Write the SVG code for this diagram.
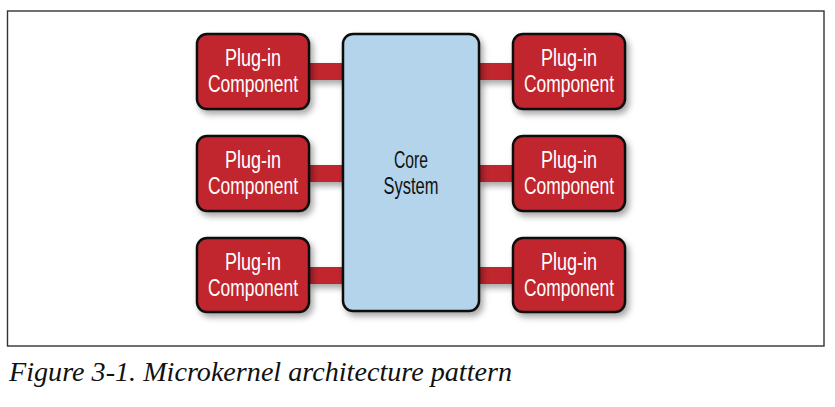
<svg xmlns="http://www.w3.org/2000/svg" width="835" height="407" viewBox="0 0 835 407">
  <style>
    .plug { fill: #c1272d; stroke: #111; stroke-width: 2.5; }
    .core { fill: #b3d4ea; stroke: #111; stroke-width: 2.5; }
    .bar { fill: #c1272d; }
    .lbl { font-family: "Liberation Sans", Arial, sans-serif; font-size: 23px; text-anchor: middle; }
    .pl { fill: #ffffff; }
    .cl { fill: #111111; }
    .cap { font-family: "Liberation Serif", "Times New Roman", serif; font-style: italic; font-size: 27px; fill: #111; }
  </style>
  <defs>
    <filter id="sh" x="-20%" y="-20%" width="150%" height="150%">
      <feDropShadow dx="3" dy="4" stdDeviation="3" flood-color="#000" flood-opacity="0.35"/>
    </filter>
  </defs>
  <rect x="7.5" y="11" width="816.5" height="335" fill="#fff" stroke="#333" stroke-width="1.4"/>
  <g id="connectors" filter="url(#sh)">
    <rect class="bar" x="308" y="63" width="36" height="17"/>
    <rect class="bar" x="308" y="165" width="36" height="17"/>
    <rect class="bar" x="308" y="267" width="36" height="17"/>
    <rect class="bar" x="478" y="63" width="36" height="17"/>
    <rect class="bar" x="478" y="165" width="36" height="17"/>
    <rect class="bar" x="478" y="267" width="36" height="17"/>
  </g>
  <g id="core">
    <rect class="core" x="343" y="34" width="136" height="277" rx="10" filter="url(#sh)"/>
    <text class="lbl cl" x="411" y="168" textLength="34" lengthAdjust="spacingAndGlyphs">Core</text>
    <text class="lbl cl" x="411" y="194" textLength="55" lengthAdjust="spacingAndGlyphs">System</text>
  </g>
  <g id="plugin-l1">
    <rect class="plug" x="197" y="34" width="112" height="75" rx="10" filter="url(#sh)"/>
    <text class="lbl pl" x="253" y="66" textLength="56" lengthAdjust="spacingAndGlyphs">Plug-in</text>
    <text class="lbl pl" x="253" y="92" textLength="90" lengthAdjust="spacingAndGlyphs">Component</text>
  </g>
  <g id="plugin-l2">
    <rect class="plug" x="197" y="136" width="112" height="75" rx="10" filter="url(#sh)"/>
    <text class="lbl pl" x="253" y="168" textLength="56" lengthAdjust="spacingAndGlyphs">Plug-in</text>
    <text class="lbl pl" x="253" y="194" textLength="90" lengthAdjust="spacingAndGlyphs">Component</text>
  </g>
  <g id="plugin-l3">
    <rect class="plug" x="197" y="238" width="112" height="74" rx="10" filter="url(#sh)"/>
    <text class="lbl pl" x="253" y="270" textLength="56" lengthAdjust="spacingAndGlyphs">Plug-in</text>
    <text class="lbl pl" x="253" y="296" textLength="90" lengthAdjust="spacingAndGlyphs">Component</text>
  </g>
  <g id="plugin-r1">
    <rect class="plug" x="513" y="34" width="112" height="75" rx="10" filter="url(#sh)"/>
    <text class="lbl pl" x="569" y="66" textLength="56" lengthAdjust="spacingAndGlyphs">Plug-in</text>
    <text class="lbl pl" x="569" y="92" textLength="90" lengthAdjust="spacingAndGlyphs">Component</text>
  </g>
  <g id="plugin-r2">
    <rect class="plug" x="513" y="136" width="112" height="75" rx="10" filter="url(#sh)"/>
    <text class="lbl pl" x="569" y="168" textLength="56" lengthAdjust="spacingAndGlyphs">Plug-in</text>
    <text class="lbl pl" x="569" y="194" textLength="90" lengthAdjust="spacingAndGlyphs">Component</text>
  </g>
  <g id="plugin-r3">
    <rect class="plug" x="513" y="238" width="112" height="74" rx="10" filter="url(#sh)"/>
    <text class="lbl pl" x="569" y="270" textLength="56" lengthAdjust="spacingAndGlyphs">Plug-in</text>
    <text class="lbl pl" x="569" y="296" textLength="90" lengthAdjust="spacingAndGlyphs">Component</text>
  </g>
  <text class="cap" x="9" y="381" textLength="503" lengthAdjust="spacingAndGlyphs">Figure 3-1. Microkernel architecture pattern</text>
</svg>
